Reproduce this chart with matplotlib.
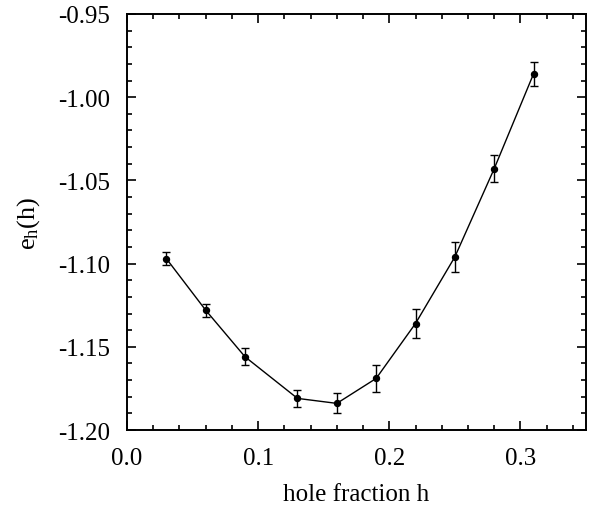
import matplotlib
matplotlib.use("Agg")
import matplotlib.pyplot as plt
from matplotlib.ticker import MultipleLocator, FormatStrFormatter

plt.rcParams['font.family'] = ['Liberation Serif', 'DejaVu Serif']
plt.rcParams['mathtext.fontset'] = 'custom'
plt.rcParams['mathtext.rm'] = 'Liberation Serif'
plt.rcParams['mathtext.it'] = 'Liberation Serif'
plt.rcParams['axes.unicode_minus'] = False

# hole fraction, energy per hole, error
h = [0.03, 0.06, 0.09, 0.13, 0.16, 0.19, 0.22, 0.25, 0.28, 0.31]
eh = [-1.097, -1.128, -1.156, -1.181, -1.184, -1.169, -1.136, -1.096, -1.043, -0.986]
err = [0.004, 0.004, 0.005, 0.005, 0.006, 0.008, 0.009, 0.009, 0.008, 0.007]

fig = plt.figure(figsize=(5.91, 5.06), dpi=100)
ax = fig.add_axes([0.2149, 0.1482, 0.7766, 0.8222])

ax.errorbar(h, eh, yerr=err, fmt='o-', color='black', ms=4.3, lw=1.0,
            elinewidth=1.0, capsize=3, capthick=1.0)

ax.set_xlim(0.0, 0.35)
ax.set_ylim(-1.20, -0.95)
ax.xaxis.set_major_locator(MultipleLocator(0.1))
ax.xaxis.set_minor_locator(MultipleLocator(0.02))
ax.yaxis.set_major_locator(MultipleLocator(0.05))
ax.yaxis.set_minor_locator(MultipleLocator(0.01))
ax.xaxis.set_major_formatter(FormatStrFormatter('%.1f'))
ax.yaxis.set_major_formatter(FormatStrFormatter('%.2f'))

ax.tick_params(which='both', direction='in', top=True, right=True, labelsize=18, width=1.2)
ax.tick_params(which='major', length=6.5)
ax.tick_params(axis='x', which='major', pad=12)
ax.tick_params(axis='y', which='major', pad=12)
ax.tick_params(which='minor', length=3.5)
for s in ax.spines.values():
    s.set_linewidth(1.4)

ax.set_xlabel('hole fraction h', fontsize=18, labelpad=10)
ax.set_ylabel(r'$\mathrm{e_h(h)}$', fontsize=19, labelpad=12)

fig.savefig('out.png', dpi=100)
